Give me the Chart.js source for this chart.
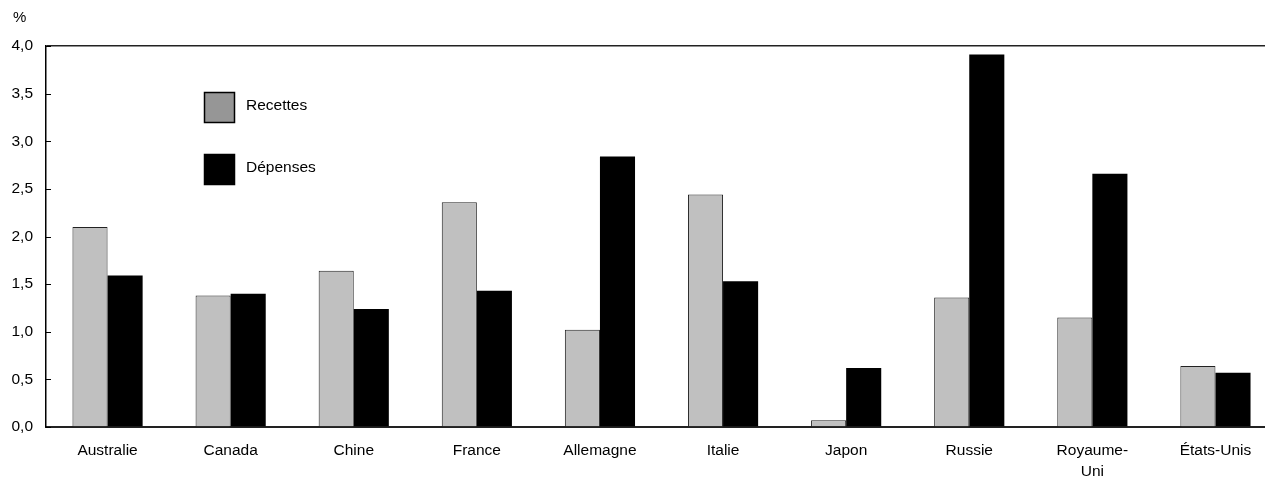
<!DOCTYPE html>
<html>
<head>
<meta charset="utf-8">
<script src="https://cdn.jsdelivr.net/npm/chart.js@4"></script>
<style>
  html, body { margin: 0; padding: 0; background: #fff; overflow: hidden; }
  #wrap { position: absolute; left: 0; top: 0; width: 1278px; height: 478px; }
</style>
</head>
<body>
<div id="wrap"><canvas id="chart"></canvas></div>
<script>
// Data
const countries = ['Australie', 'Canada', 'Chine', 'France', 'Allemagne', 'Italie', 'Japon', 'Russie', ['Royaume-', 'Uni'], 'États-Unis'];
const recettes = [2.10, 1.38, 1.64, 2.36, 1.02, 2.44, 0.07, 1.36, 1.15, 0.64];
const depenses = [1.59, 1.40, 1.24, 1.43, 2.84, 1.53, 0.62, 3.91, 2.66, 0.57];
const yTicks = [0, 0.5, 1, 1.5, 2, 2.5, 3, 3.5, 4];

const FONT = '"Liberation Sans", Arial, sans-serif';

// legend boxes inside the plot, plus the "%" unit label and inward ticks
const extras = {
  id: 'extras',
  afterDraw(chart) {
    const ctx = chart.ctx;
    const y = chart.scales.y;
    ctx.save();
    // inward tick marks on the value axis
    ctx.strokeStyle = '#000';
    ctx.lineWidth = 1;
    y.ticks.forEach(t => {
      const py = Math.round(y.getPixelForValue(t.value)) + 0.5;
      ctx.beginPath();
      ctx.moveTo(y.right, py);
      ctx.lineTo(y.right + 5, py);
      ctx.stroke();
    });
    // unit label
    ctx.fillStyle = '#000';
    ctx.font = '15px ' + FONT;
    ctx.textBaseline = 'middle';
    ctx.fillText('%', 13, 18);
    // legend
    const items = [
      { text: chart.data.datasets[0].label, fill: '#969696', y: 92 },
      { text: chart.data.datasets[1].label, fill: '#000', y: 154 }
    ];
    items.forEach(it => {
      ctx.fillStyle = it.fill;
      ctx.fillRect(204, it.y, 31, 31);
      ctx.strokeStyle = '#000';
      ctx.lineWidth = 1.5;
      ctx.strokeRect(204.5, it.y + 0.5, 30, 30);
      ctx.fillStyle = '#000';
      ctx.font = '15.5px ' + FONT;
      ctx.fillText(it.text, 246, it.y + 14);
    });
    ctx.restore();
  }
};

new Chart(document.getElementById('chart'), {
  type: 'bar',
  data: {
    labels: countries,
    datasets: [
      { label: 'Recettes', data: recettes, backgroundColor: '#c0c0c0', borderColor: '#222', borderWidth: 1 },
      { label: 'Dépenses', data: depenses, backgroundColor: '#000', borderColor: '#000', borderWidth: 0 }
    ]
  },
  options: {
    responsive: true,
    maintainAspectRatio: false,
    animation: false,
    devicePixelRatio: 1,
    layout: { padding: { top: 46, left: 0, right: 1, bottom: 0 } },
    datasets: { bar: { barPercentage: 1, categoryPercentage: 0.57 } },
    plugins: { legend: { display: false }, tooltip: { enabled: false } },
    scales: {
      x: {
        grid: { display: false, drawTicks: false },
        border: { display: true, color: '#222', width: 2 },
        ticks: { color: '#000', font: { family: FONT, size: 15.5, lineHeight: 1.3 }, padding: 14, maxRotation: 0, autoSkip: false },
        afterFit(scale) { scale.height = 51; }
      },
      y: {
        min: 0,
        max: 4,
        afterBuildTicks(scale) { scale.ticks = yTicks.map(v => ({ value: v })); },
        grid: {
          drawTicks: false,
          lineWidth: 1.5,
          color: c => (c.tick && c.tick.value === 4 ? '#222' : 'rgba(0,0,0,0)')
        },
        border: { display: true, color: '#000', width: 1.5 },
        ticks: {
          color: '#000',
          font: { family: FONT, size: 15.5 },
          padding: 13,
          callback: v => v.toFixed(1).replace('.', ',')
        },
        afterFit(scale) { scale.width = 46; }
      }
    }
  },
  plugins: [extras]
});
</script>
</body>
</html>
